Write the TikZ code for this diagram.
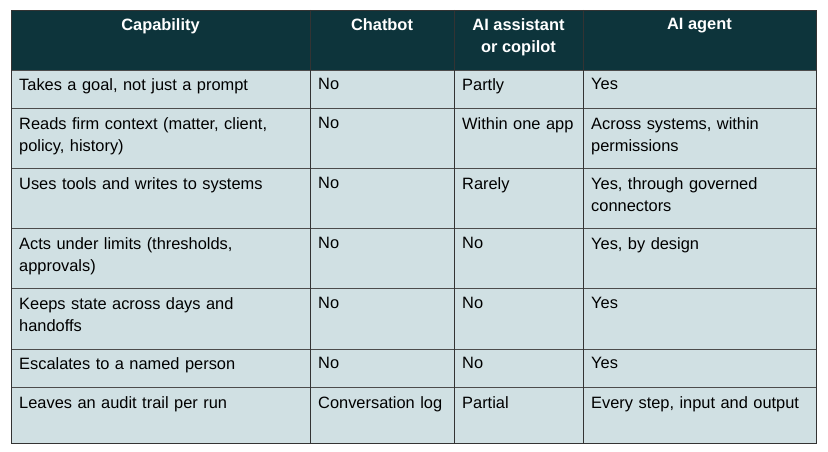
\documentclass[tikz,border=0pt]{standalone}
\usepackage{fontspec}
\setmainfont{Liberation Sans}
\usetikzlibrary{positioning}
\definecolor{headfill}{HTML}{0D343B}
\definecolor{bodyfill}{HTML}{D0E0E3}
\begin{document}
\begin{tikzpicture}[x=1pt, y=-1pt,
  cell/.style={anchor=north west, inner sep=0pt, align=left, text width=#1,
    font=\fontsize{16.4}{22}\selectfont},
  cell/.default=125pt,
  head/.style={anchor=north, inner sep=0pt, align=center, text=white,
    font=\fontsize{16.4}{22}\selectfont\bfseries}]

  % Canvas
  \useasboundingbox (0,0) rectangle (828,452);

  % Backgrounds
  \fill[bodyfill] (11,70) rectangle (816,443);
  \fill[headfill] (11,10) rectangle (816,70);

  % Grid lines
  \foreach \y in {70,108,168,228,288,349,387}
    \draw[black!70, line width=0.8pt] (11,\y) -- (816,\y);
  \foreach \x in {310,454,583}
    \draw[black!80, line width=0.8pt] (\x,10) -- (\x,443);
  \draw[black!80, line width=0.8pt] (11,10) rectangle (816,443);

  % Header
  \node[head] (hcap) at (160.5,18) {Capability};
  \node[head] (hchat) at (382,18) {Chatbot};
  \node[head] (hasst) at (518.5,18) {AI assistant\\or copilot};
  \node[head] (hagent) at (699.5,18) {AI agent};

  % Rows
  \node[cell=285pt] (c1) at (19,78) {Takes a goal, not just a prompt};
  \node[cell] (b1) at (318,78) {No};
  \node[cell] (a1) at (462,78) {Partly};
  \node[cell=230pt] (g1) at (591,78) {Yes};

  \node[cell=285pt] (c2) at (19,117) {Reads firm context (matter, client,\\policy, history)};
  \node[cell] (b2) at (318,117) {No};
  \node[cell] (a2) at (462,117) {Within one app};
  \node[cell=230pt] (g2) at (591,117) {Across systems, within\\permissions};

  \node[cell=285pt] (c3) at (19,177) {Uses tools and writes to systems};
  \node[cell] (b3) at (318,177) {No};
  \node[cell] (a3) at (462,177) {Rarely};
  \node[cell=230pt] (g3) at (591,177) {Yes, through governed\\connectors};

  \node[cell=285pt] (c4) at (19,237) {Acts under limits (thresholds,\\approvals)};
  \node[cell] (b4) at (318,237) {No};
  \node[cell] (a4) at (462,237) {No};
  \node[cell=230pt] (g4) at (591,237) {Yes, by design};

  \node[cell=285pt] (c5) at (19,297) {Keeps state across days and\\handoffs};
  \node[cell] (b5) at (318,297) {No};
  \node[cell] (a5) at (462,297) {No};
  \node[cell=230pt] (g5) at (591,297) {Yes};

  \node[cell=285pt] (c6) at (19,357) {Escalates to a named person};
  \node[cell] (b6) at (318,357) {No};
  \node[cell] (a6) at (462,357) {No};
  \node[cell=230pt] (g6) at (591,357) {Yes};

  \node[cell=285pt] (c7) at (19,396) {Leaves an audit trail per run};
  \node[cell=135pt] (b7) at (318,396) {Conversation log};
  \node[cell] (a7) at (462,396) {Partial};
  \node[cell=230pt] (g7) at (591,396) {Every step, input and output};

\end{tikzpicture}
\end{document}
